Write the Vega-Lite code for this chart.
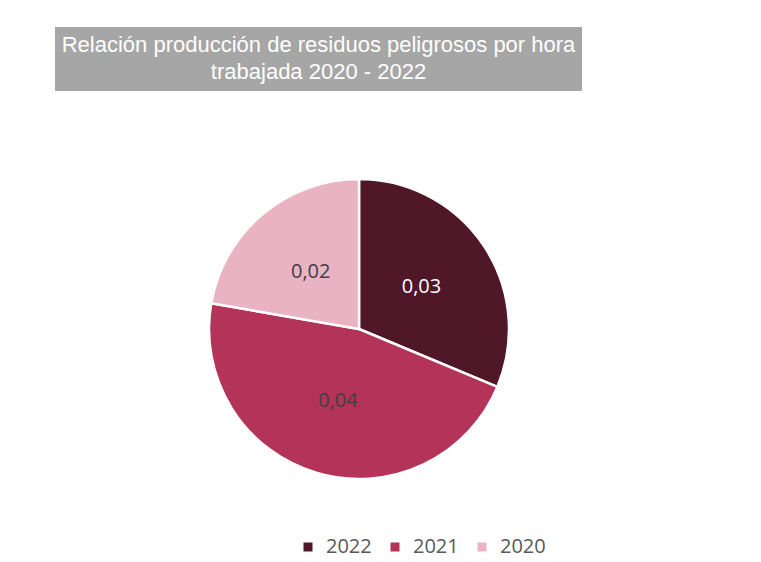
{
  "$schema": "https://vega.github.io/schema/vega-lite/v6.json",
  "background": "white",
  "padding": {"left": 55, "top": 27, "right": 20, "bottom": 20},
  "spacing": 38,
  "config": {
    "view": {"stroke": null},
    "locale": {"number": {"decimal": ",", "thousands": ".", "grouping": [3], "currency": ["", " €"]}}
  },
  "vconcat": [
    {
      "width": 527,
      "height": 64,
      "view": {"fill": "#a6a6a6", "stroke": null},
      "data": {"values": [{"t": "Relación producción de residuos peligrosos por hora\ntrabajada 2020 - 2022"}]},
      "mark": {"type": "text", "color": "white", "font": "Liberation Sans", "fontSize": 22, "lineHeight": 27, "lineBreak": "\n", "align": "center", "baseline": "alphabetic", "dy": -7},
      "encoding": {"text": {"field": "t", "type": "nominal"}}
    },
    {
      "width": 608,
      "height": 400,
      "data": {"values": [
        {"year": "2022", "valor": 0.0294},
        {"year": "2021", "valor": 0.0436},
        {"year": "2020", "valor": 0.0209}
      ]},
      "encoding": {
        "theta": {"field": "valor", "type": "quantitative", "stack": true},
        "order": {"field": "year", "sort": "descending"}
      },
      "layer": [
        {
          "mark": {"type": "arc", "outerRadius": 150, "stroke": "white", "strokeWidth": 2.5},
          "encoding": {
            "color": {
              "field": "year", "type": "nominal",
              "scale": {"domain": ["2022", "2021", "2020"], "range": ["#501729", "#b33359", "#e9b3c3"]},
              "legend": {
                "title": null, "orient": "none", "direction": "horizontal",
                "legendX": 243, "legendY": 510,
                "symbolType": "square", "symbolSize": 81, "symbolStrokeWidth": 0,
                "labelFont": "Open Sans", "labelFontSize": 20, "labelColor": "#595959",
                "columnPadding": 13, "labelOffset": 8
              }
            }
          }
        },
        {
          "mark": {"type": "text", "radius": 75, "font": "Open Sans", "fontSize": 20},
          "encoding": {
            "text": {"field": "valor", "type": "quantitative", "format": ".2f"},
            "color": {"condition": {"test": "datum.year == '2022'", "value": "white"}, "value": "#404040"}
          }
        }
      ]
    }
  ]
}
